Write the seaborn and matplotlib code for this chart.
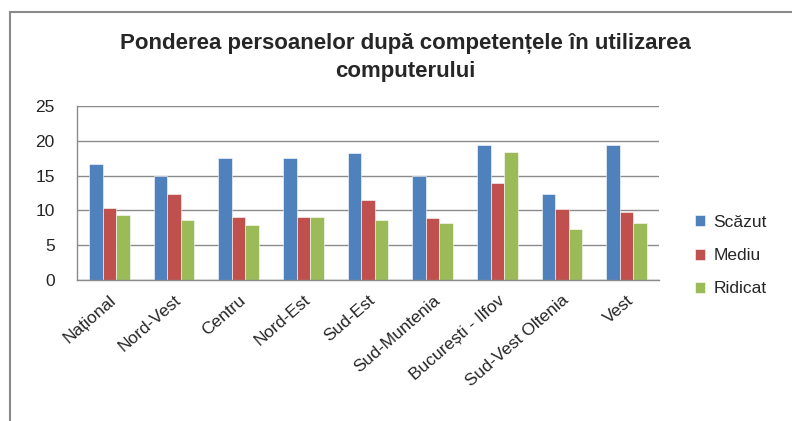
import numpy as np
import pandas as pd
import matplotlib.pyplot as plt
import matplotlib.lines as mlines
import seaborn as sns

# Data
regions = ['Național', 'Nord-Vest', 'Centru', 'Nord-Est', 'Sud-Est',
           'Sud-Muntenia', 'București - Ilfov', 'Sud-Vest Oltenia', 'Vest']
scazut = [16.7, 15.0, 17.5, 17.5, 18.2, 15.0, 19.4, 12.3, 19.4]
mediu = [10.4, 12.4, 9.1, 9.1, 11.5, 8.9, 14.0, 10.2, 9.7]
ridicat = [9.4, 8.6, 7.9, 9.0, 8.6, 8.2, 18.4, 7.3, 8.2]
levels = ['Scăzut', 'Mediu', 'Ridicat']
colors = ['#4F81BD', '#C0504D', '#9BBB59']

df = pd.DataFrame({'Regiune': regions, 'Scăzut': scazut,
                   'Mediu': mediu, 'Ridicat': ridicat})
df = df.melt(id_vars='Regiune', var_name='Nivel', value_name='Pondere')

sns.set_style('white')
plt.rcParams['font.family'] = ['Liberation Sans', 'DejaVu Sans']

fig = plt.figure(figsize=(7.92, 4.21), dpi=100)
ax = fig.add_axes([77 / 792, 1 - 280 / 421, (659 - 77) / 792, (280 - 106) / 421])

sns.barplot(data=df, x='Regiune', y='Pondere', hue='Nivel', hue_order=levels,
            palette=colors, saturation=1, width=0.63, gap=0, ax=ax,
            edgecolor='white', linewidth=0.4, legend=True)

ax.set_ylim(0, 25)
ax.set_xlim(-0.5, len(regions) - 0.5)
ax.set_yticks(range(0, 26, 5))
ax.yaxis.grid(True, color='#8a8a8a', linewidth=1)
ax.set_axisbelow(True)
ax.set_xlabel('')
ax.set_ylabel('')

for s in ['top', 'right']:
    ax.spines[s].set_visible(False)
for s in ['left', 'bottom']:
    ax.spines[s].set_color('#8a8a8a')
    ax.spines[s].set_linewidth(1)

# y ticks stick out to the left, x ticks sit between categories
ax.tick_params(axis='y', which='major', length=5, color='#8a8a8a',
               labelsize=12.5, pad=11)
ax.tick_params(axis='x', which='major', length=0, labelsize=12.5, pad=9)
ax.set_xticks(np.arange(-0.5, len(regions), 1), minor=True)
ax.tick_params(axis='x', which='minor', length=5, color='#8a8a8a')
plt.setp(ax.get_xticklabels(), rotation=41, ha='right', rotation_mode='anchor')

ax.legend(loc='center left', bbox_to_anchor=(1.035, 0.14), frameon=False,
          fontsize=12.5, handlelength=0.6, handleheight=0.6,
          labelspacing=1.05, handletextpad=0.45)

fig.text(0.512, 1 - 44 / 421, 'Ponderea persoanelor după competențele în utilizarea',
         ha='center', va='center', fontsize=16, fontweight='bold')
fig.text(0.512, 1 - 71 / 421, 'computerului',
         ha='center', va='center', fontsize=16, fontweight='bold')

# outer chart frame (top and left edges visible)
fig.add_artist(mlines.Line2D([10 / 792, 1], [1 - 12 / 421, 1 - 12 / 421],
                             color='#8a8a8a', linewidth=1.5))
fig.add_artist(mlines.Line2D([10 / 792, 10 / 792], [0, 1 - 12 / 421],
                             color='#8a8a8a', linewidth=1.5))

fig.savefig('out.png', dpi=100)
